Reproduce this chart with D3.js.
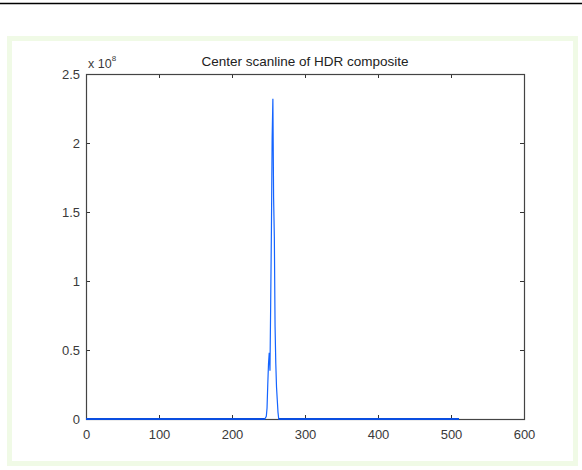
<!DOCTYPE html>
<html>
<head>
<meta charset="utf-8">
<script src="https://cdn.jsdelivr.net/npm/d3@7"></script>
<style>
  body { margin: 0; background: #fff; }
  svg { display: block; font-family: "Liberation Sans", Arial, sans-serif; }
</style>
</head>
<body>
<svg id="chart" width="582" height="470"></svg>
<script>
const width = 582, height = 470;

// scanline samples: pixel index and value (units of 1e8)
const scanIndex = [0, 245, 247, 248, 249, 250, 251, 252, 253, 254, 255, 256, 257, 258, 259, 260, 261, 262, 263, 264, 511];
const scanValue = [0, 0, 0.02, 0.08, 0.25, 0.4, 0.48, 0.35, 0.84, 1.37, 2.04, 2.32, 1.6, 1.32, 0.67, 0.4, 0.23, 0.14, 0.05, 0, 0];
const xTicks = [0, 100, 200, 300, 400, 500, 600];
const yTicks = [0, 0.5, 1, 1.5, 2, 2.5];
const titleText = "Center scanline of HDR composite";

const marginLeft = 86, marginRight = 524, marginTop = 74, marginBottom = 419;

const svg = d3.select("#chart");

// top rule
svg.append("line")
    .attr("x1", 0).attr("x2", width)
    .attr("y1", 3.5).attr("y2", 3.5)
    .attr("stroke", "#000")
    .attr("stroke-width", 1.5);

// green framed panel
svg.append("rect")
    .attr("x", 9.5).attr("y", 38.5)
    .attr("width", 566).attr("height", 425)
    .attr("fill", "#fff")
    .attr("stroke", "#f0fae6")
    .attr("stroke-width", 5);

const x = d3.scaleLinear().domain([0, 600]).range([marginLeft, marginRight]);
const y = d3.scaleLinear().domain([0, 2.5]).range([marginBottom, marginTop]);

const tickColor = "#333";
const labelColor = "#3a3a3a";

// bottom & top axes (ticks inward)
svg.append("g")
    .attr("transform", `translate(0,${marginBottom})`)
    .call(d3.axisBottom(x).tickValues(xTicks).tickSize(-4).tickPadding(11).tickSizeOuter(0))
    .call(g => g.select(".domain").remove())
    .call(g => g.selectAll(".tick line").attr("stroke", tickColor))
    .call(g => g.selectAll(".tick text").attr("fill", labelColor).style("font-size", "13px")
        .attr("font-family", "Liberation Sans, Arial, sans-serif"));

svg.append("g")
    .attr("transform", `translate(0,${marginTop})`)
    .call(d3.axisTop(x).tickValues(xTicks).tickSize(-4).tickFormat("").tickSizeOuter(0))
    .call(g => g.select(".domain").remove())
    .call(g => g.selectAll(".tick line").attr("stroke", tickColor));

// left & right axes
svg.append("g")
    .attr("transform", `translate(${marginLeft},0)`)
    .call(d3.axisLeft(y).tickValues(yTicks).tickSize(-4).tickPadding(6).tickFormat(d => d).tickSizeOuter(0))
    .call(g => g.select(".domain").remove())
    .call(g => g.selectAll(".tick line").attr("stroke", tickColor))
    .call(g => g.selectAll(".tick text").attr("fill", labelColor).style("font-size", "13px")
        .attr("font-family", "Liberation Sans, Arial, sans-serif"));

svg.append("g")
    .attr("transform", `translate(${marginRight},0)`)
    .call(d3.axisRight(y).tickValues(yTicks).tickSize(-4).tickFormat("").tickSizeOuter(0))
    .call(g => g.select(".domain").remove())
    .call(g => g.selectAll(".tick line").attr("stroke", tickColor));

// axes box
svg.append("rect")
    .attr("x", marginLeft + 0.5).attr("y", marginTop + 0.5)
    .attr("width", marginRight - marginLeft).attr("height", marginBottom - marginTop)
    .attr("fill", "none")
    .attr("stroke", "#444")
    .attr("stroke-width", 1.2);

// scanline
const points = scanIndex.map((d, i) => [d, scanValue[i]]);
const line = d3.line()
    .x(d => x(d[0]))
    .y(d => y(d[1]));

svg.append("path")
    .attr("fill", "none")
    .attr("stroke", "#1464ff")
    .attr("stroke-width", 1.2)
    .attr("d", line(points));

// baseline looks heavier where the curve lies on the axis
svg.append("path")
    .attr("fill", "none")
    .attr("stroke", "#0a4ee0")
    .attr("stroke-width", 2)
    .attr("d", line(points.filter(d => d[0] <= 245)));
svg.append("path")
    .attr("fill", "none")
    .attr("stroke", "#0a4ee0")
    .attr("stroke-width", 2)
    .attr("d", line(points.filter(d => d[0] >= 264)));

// title
svg.append("text")
    .attr("x", (marginLeft + marginRight) / 2)
    .attr("y", 66)
    .attr("text-anchor", "middle")
    .attr("fill", "#222")
    .style("font-size", "13.5px")
    .text(titleText);

// exponent label
const expo = svg.append("text")
    .attr("x", 88)
    .attr("y", 68)
    .attr("fill", labelColor)
    .style("font-size", "12.5px");
expo.append("tspan").text("x 10");
expo.append("tspan")
    .attr("dy", -7)
    .style("font-size", "8px")
    .text("8");
</script>
</body>
</html>
